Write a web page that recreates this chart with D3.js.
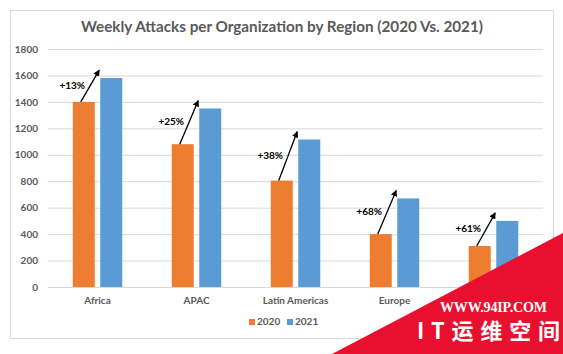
<!DOCTYPE html>
<html>
<head>
<meta charset="utf-8">
<script src="https://cdn.jsdelivr.net/npm/d3@7/dist/d3.min.js"></script>
<style>
  html, body { margin: 0; padding: 0; background: #ffffff; }
  svg { display: block; }
</style>
</head>
<body>
<script>
const categories = ["Africa", "APAC", "Latin Americas", "Europe", "North America"];
const series = ["2020", "2021"];
const values2020 = [1400, 1080, 805, 400, 310];
const values2021 = [1580, 1350, 1115, 670, 500];
const changes = ["+13%", "+25%", "+38%", "+68%", "+61%"];
const yTicks = [0, 200, 400, 600, 800, 1000, 1200, 1400, 1600, 1800];
const colors = ["#ED7D31", "#5B9BD5"];
const title = "Weekly Attacks per Organization by Region (2020 Vs. 2021)";

const W = 563, H = 354;
const svg = d3.select("body").append("svg").attr("width", W).attr("height", H);

// chart frame
svg.append("rect").attr("x", 10.5).attr("y", 10.5).attr("width", 543).attr("height", 328)
  .attr("fill", "#fff").attr("stroke", "#D9D9D9").attr("stroke-width", 1);

svg.append("text").attr("x", 282).attr("y", 28).attr("text-anchor", "middle")
  .attr("dominant-baseline", "middle")
  .attr("font-family", "Lato, sans-serif").attr("font-weight", 700).attr("font-size", 16)
  .attr("textLength", 402).attr("lengthAdjust", "spacingAndGlyphs")
  .attr("fill", "#595959").text(title);

const x0 = d3.scaleBand().domain(categories).range([48, 543]).paddingInner(0.5).paddingOuter(0.25);
const x1 = d3.scaleBand().domain(series).range([0, x0.bandwidth()]).paddingInner(0.2);
const y = d3.scaleLinear().domain([0, 1800]).range([287, 49]);

// gridlines + y axis
const yAxis = d3.axisLeft(y).tickValues(yTicks).tickFormat(d3.format("d"))
  .tickSize(-(543 - 48)).tickPadding(10);
const ga = svg.append("g").attr("transform", "translate(48,0)").call(yAxis);
ga.select(".domain").remove();
ga.selectAll(".tick line").attr("stroke", "#D9D9D9").attr("stroke-width", 1);
ga.selectAll(".tick text").attr("font-family", "Lato, sans-serif").attr("font-weight", 700)
  .attr("font-size", 10).attr("fill", "#595959");

// x axis labels
const xAxis = d3.axisBottom(x0).tickSize(0).tickPadding(10);
const gx = svg.append("g").attr("transform", "translate(0,287)").call(xAxis);
gx.select(".domain").attr("stroke", "#D9D9D9");
gx.selectAll(".tick text").attr("font-family", "Lato, sans-serif").attr("font-weight", 700)
  .attr("font-size", 10).attr("fill", "#595959");

// bars
const data = categories.map((c, i) => ({ c, v: [values2020[i], values2021[i]], ch: changes[i] }));
const groups = svg.append("g").selectAll("g").data(data).join("g")
  .attr("transform", d => `translate(${x0(d.c)},0)`);
groups.selectAll("rect").data(d => d.v.map((v, j) => ({ s: series[j], v, j }))).join("rect")
  .attr("x", d => x1(d.s)).attr("width", x1.bandwidth())
  .attr("y", d => y(d.v)).attr("height", d => y(0) - y(d.v))
  .attr("fill", d => colors[d.j]);

// arrows
const defs = svg.append("defs");
defs.append("marker").attr("id", "ah").attr("viewBox", "0 0 10 10").attr("refX", 9).attr("refY", 5)
  .attr("markerWidth", 5).attr("markerHeight", 5).attr("orient", "auto")
  .append("path").attr("d", "M0,0 L10,5 L0,10 z").attr("fill", "#000");

const ann = svg.append("g");
data.forEach(d => {
  const xs = x0(d.c) + x1("2020") + x1.bandwidth() / 2 - 3;
  const ys = y(d.v[0]);
  const xe = x0(d.c) + x1("2021") - 1;
  const ye = y(d.v[1]) - 8;
  ann.append("line").attr("x1", xs).attr("y1", ys).attr("x2", xe).attr("y2", ye)
    .attr("stroke", "#000").attr("stroke-width", 1.3).attr("marker-end", "url(#ah)");
  ann.append("text").attr("x", (xs + xe) / 2 - 5).attr("y", (ys + ye) / 2)
    .attr("text-anchor", "end").attr("dominant-baseline", "middle")
    .attr("font-family", "Lato, sans-serif").attr("font-weight", 700).attr("font-size", 10)
    .attr("fill", "#000").text(d.ch);
});

// legend
const leg = svg.append("g");
const legX = [249, 287];
series.forEach((s, i) => {
  leg.append("rect").attr("x", legX[i]).attr("y", 319).attr("width", 6).attr("height", 6).attr("fill", colors[i]);
  leg.append("text").attr("x", legX[i] + 8).attr("y", 322.5).attr("dominant-baseline", "middle")
    .attr("font-family", "Lato, sans-serif").attr("font-weight", 700).attr("font-size", 10)
    .attr("fill", "#595959").text(s);
});

// watermark
const wm = svg.append("g");
wm.append("polygon").attr("points", "332,354 563,233 563,354").attr("fill", "#E8102E");
wm.append("text").attr("x", 440).attr("y", 309).attr("dominant-baseline", "middle")
  .attr("font-family", "'Liberation Serif', serif").attr("font-weight", 700).attr("font-size", 14)
  .attr("textLength", 107).attr("fill", "#fff").text("WWW.94IP.COM");
wm.append("text").attr("x", 417).attr("y", 333).attr("dominant-baseline", "middle")
  .attr("font-family", "'Noto Sans CJK SC', sans-serif").attr("font-weight", 700).attr("font-size", 22)
  .attr("textLength", 143).attr("fill", "#fff").text("IT运维空间");
</script>
</body>
</html>
